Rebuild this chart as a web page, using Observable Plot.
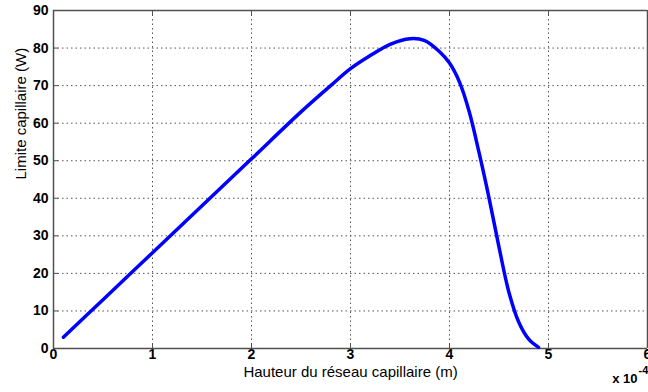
<!DOCTYPE html>
<html><head><meta charset="utf-8">
<script src="https://cdn.jsdelivr.net/npm/d3@7"></script>
<script src="https://cdn.jsdelivr.net/npm/@observablehq/plot@0.6"></script>
<style>body{margin:0;background:#fff} svg{display:block}</style>
</head><body><div id="chart"></div>
<script>
// Hauteur du réseau capillaire (x 10^-4 m)
const hauteur = [0.1, 0.5, 1, 1.5, 2, 2.5, 2.8, 3, 3.2, 3.4, 3.6, 3.75, 3.9, 4.0, 4.1, 4.2, 4.3, 4.4, 4.5, 4.6, 4.7, 4.8, 4.9];
// Limite capillaire (W)
const limite = [3, 13, 25.5, 38, 50.5, 63, 70, 74.5, 78, 81, 82.5, 82, 79, 76, 71, 63, 52, 40, 27, 15, 7, 2.5, 0.3];
const xTicks = [0, 1, 2, 3, 4, 5, 6];
const yTicks = [0, 10, 20, 30, 40, 50, 60, 70, 80, 90];
const xLabel = "Hauteur du réseau capillaire (m)";
const yLabel = "Limite capillaire (W)";
const scaleText = "x 10";
const scaleExp = "-4";

const data = hauteur.map((h, i) => ({h, v: limite[i]}));
const gridStyle = {stroke: "#555", strokeOpacity: 1, strokeDasharray: "1.5,3"};
const frameColor = "#505050";

const chart = Plot.plot({
  width: 648, height: 392,
  marginLeft: 53, marginRight: 1, marginTop: 10, marginBottom: 44,
  style: {fontFamily: "'Liberation Sans', Arial, sans-serif", background: "#fff"},
  x: {domain: [0, 6]},
  y: {domain: [0, 90]},
  marks: [
    Plot.gridX(xTicks, gridStyle),
    Plot.gridY(yTicks, gridStyle),
    Plot.axisX(xTicks, {anchor: "bottom", tickSize: -5, tickPadding: 6, fontSize: 14, fontWeight: "bold", fill: "#000", stroke: frameColor, label: null}),
    Plot.axisY(yTicks, {anchor: "left", tickSize: -5, tickPadding: 10, fontSize: 14, fontWeight: "bold", fill: "#000", stroke: frameColor, label: null}),
    Plot.axisX(xTicks, {anchor: "top", tickSize: -5, tickFormat: () => "", stroke: frameColor, label: null}),
    Plot.ruleY([0, 90], {stroke: frameColor, strokeWidth: 1.5}),
    Plot.ruleX([0, 6], {stroke: frameColor, strokeWidth: 1.5}),
    Plot.line(data, {x: "h", y: "v", stroke: "#0000ff", strokeWidth: 3.5, curve: "catmull-rom"}),
    Plot.text([xLabel], {text: d => d, frameAnchor: "bottom", dy: 28, fontSize: 15, fill: "#000"}),
    Plot.text([yLabel], {text: d => d, frameAnchor: "left", rotate: -90, dx: -32, fontSize: 15, fill: "#000"}),
    Plot.text([scaleText], {text: d => d, frameAnchor: "bottom-right", textAnchor: "end", dx: -10, dy: 34, fontSize: 13, fontWeight: "bold", fill: "#000"}),
    Plot.text([scaleExp], {text: d => d, frameAnchor: "bottom-right", textAnchor: "start", dx: -9, dy: 25, fontSize: 11, fontWeight: "bold", fill: "#000"})
  ]
});
document.getElementById("chart").append(chart);
</script>
</body></html>
